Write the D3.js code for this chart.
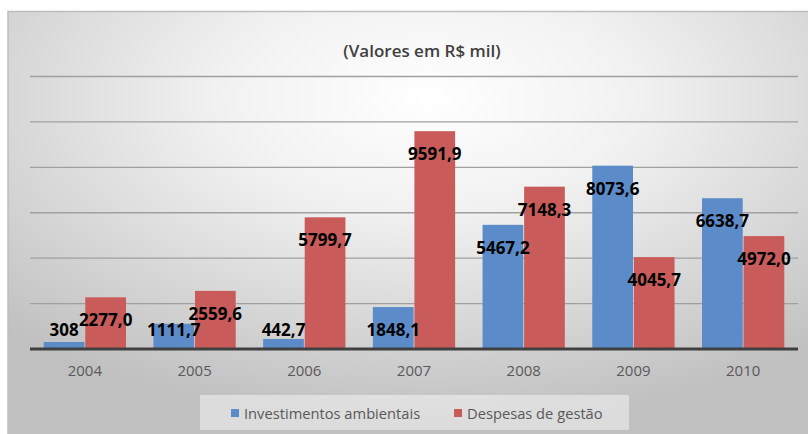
<!DOCTYPE html>
<html>
<head>
<meta charset="utf-8">
<script src="https://cdn.jsdelivr.net/npm/d3@7"></script>
<style>
  body { margin: 0; background: #fff; }
  svg { display: block; font-family: "Open Sans", sans-serif; }
</style>
</head>
<body>
<svg width="808" height="434"></svg>
<script>
var years = ["2004", "2005", "2006", "2007", "2008", "2009", "2010"];
var investimentos = [308, 1111.7, 442.7, 1848.1, 5467.2, 8073.6, 6638.7];
var despesas = [2277.0, 2559.6, 5799.7, 9591.9, 7148.3, 4045.7, 4972.0];
var seriesNames = ["Investimentos ambientais", "Despesas de gestão"];
var seriesColors = ["#5b8bc8", "#c95c5b"];
var yTicks = [0, 2000, 4000, 6000, 8000, 10000, 12000];

var width = 808, height = 434;
var margin = {left: 30, right: 10, top: 76.5, bottom: 85};

var svg = d3.select("svg");

// background gradient like the excel chart area
var defs = svg.append("defs");
var grad = defs.append("radialGradient")
  .attr("id", "bg")
  .attr("cx", 0.52).attr("cy", 0.2).attr("r", 0.75);
grad.append("stop").attr("offset", "0%").attr("stop-color", "#ffffff");
grad.append("stop").attr("offset", "35%").attr("stop-color", "#f1f1f1");
grad.append("stop").attr("offset", "100%").attr("stop-color", "#c0c0c0");

svg.append("rect")
  .attr("x", 8).attr("y", 11.5)
  .attr("width", width).attr("height", height)
  .attr("fill", "url(#bg)")
  .attr("stroke", "#bdbdbd")
  .attr("stroke-width", 1.5);

var x0 = d3.scaleBand()
  .domain(years)
  .range([margin.left, width - margin.right])
  .paddingInner(0.25)
  .paddingOuter(0.125);

var x1 = d3.scaleBand()
  .domain([0, 1])
  .range([0, x0.bandwidth()])
  .paddingInner(0.02);

var y = d3.scaleLinear()
  .domain([0, 12000])
  .range([height - margin.bottom, margin.top]);

// gridlines
svg.append("g")
  .selectAll("line")
  .data(yTicks.slice(1))
  .join("line")
  .attr("x1", margin.left)
  .attr("x2", width - margin.right)
  .attr("y1", function(d) { return y(d); })
  .attr("y2", function(d) { return y(d); })
  .attr("stroke", "#a0a0a0")
  .attr("stroke-width", 1.4);

var rows = years.map(function(yr, i) {
  return {year: yr, values: [investimentos[i], despesas[i]]};
});

var groups = svg.append("g")
  .selectAll("g")
  .data(rows)
  .join("g")
  .attr("transform", function(d) { return "translate(" + x0(d.year) + ",0)"; });

groups.selectAll("rect")
  .data(function(d) { return d.values.map(function(v, k) { return {k: k, v: v}; }); })
  .join("rect")
  .attr("x", function(d) { return x1(d.k); })
  .attr("width", x1.bandwidth())
  .attr("y", function(d) { return y(d.v); })
  .attr("height", function(d) { return y(0) - y(d.v); })
  .attr("fill", function(d) { return seriesColors[d.k]; });

// baseline
svg.append("line")
  .attr("x1", margin.left)
  .attr("x2", width - margin.right)
  .attr("y1", y(0))
  .attr("y2", y(0))
  .attr("stroke", "#404040")
  .attr("stroke-width", 3);

// value labels (inside end, clamped near the base)
function fmt(v) {
  if (v === 308) return "308";
  return d3.format(".1f")(v).replace(".", ",");
}

groups.selectAll("text")
  .data(function(d) { return d.values.map(function(v, k) { return {k: k, v: v}; }); })
  .join("text")
  .attr("x", function(d) { return x1(d.k) + x1.bandwidth() / 2; })
  .attr("y", function(d) { return Math.min(y(d.v) + 29, y(0) - 13); })
  .attr("text-anchor", "middle")
  .attr("font-size", 17)
  .attr("font-weight", "bold")
  .attr("fill", "#000")
  .text(function(d) { return fmt(d.v); });

// x axis
var xAxis = svg.append("g")
  .attr("transform", "translate(0," + y(0) + ")")
  .call(d3.axisBottom(x0).tickSize(0).tickPadding(16));
xAxis.select(".domain").remove();
xAxis.selectAll("text")
  .attr("font-family", "Open Sans")
  .attr("font-size", 15)
  .attr("fill", "#595959");

// title
svg.append("text")
  .attr("x", 422)
  .attr("y", 56.5)
  .attr("text-anchor", "middle")
  .attr("font-size", 17)
  .attr("font-weight", 600)
  .attr("fill", "#404040")
  .text("(Valores em R$ mil)");

// legend
var legend = svg.append("g");
legend.append("rect")
  .attr("x", 200).attr("y", 395)
  .attr("width", 429).attr("height", 35)
  .attr("fill", "#ffffff")
  .attr("fill-opacity", 0.45);

var legendX = [231, 454];
seriesNames.forEach(function(name, i) {
  legend.append("rect")
    .attr("x", legendX[i]).attr("y", 409)
    .attr("width", 8).attr("height", 8)
    .attr("fill", seriesColors[i]);
  legend.append("text")
    .attr("x", legendX[i] + 13)
    .attr("y", 418.5)
    .attr("font-size", 14.7)
    .attr("fill", "#595959")
    .text(name);
});
</script>
</body>
</html>
